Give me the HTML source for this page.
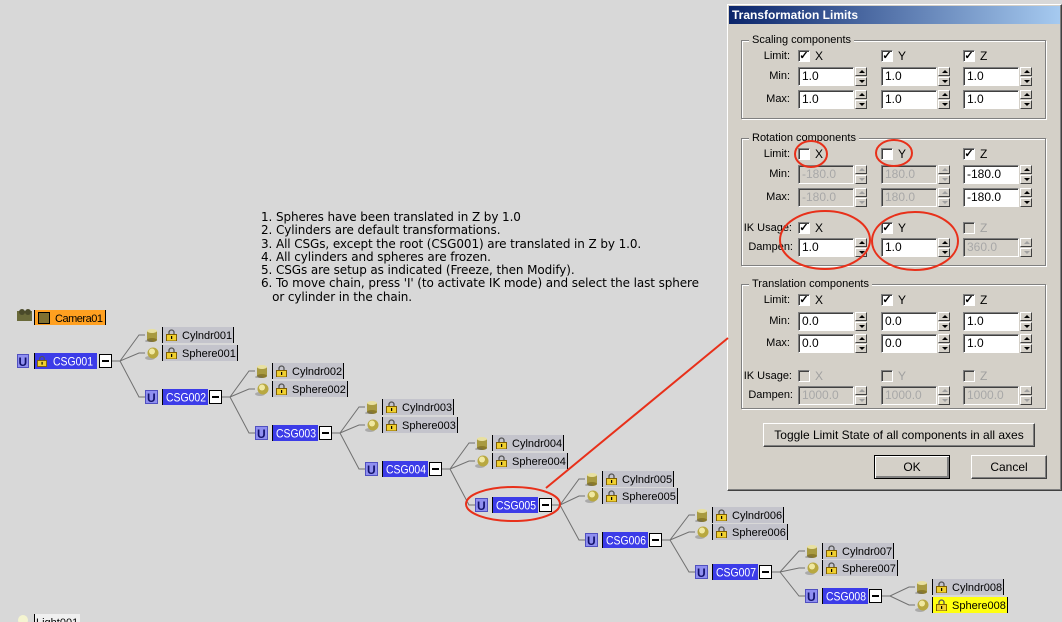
<!DOCTYPE html>
<html><head><meta charset="utf-8">
<style>
*{margin:0;padding:0;box-sizing:border-box}
body{width:1062px;height:622px;background:#d8d8d8;position:relative;overflow:hidden;font-family:"Liberation Sans",sans-serif}
#notes{position:absolute;left:261px;top:211px;font:12px/13.3px "DejaVu Sans",sans-serif;color:#000;white-space:pre;letter-spacing:-0.1px}
#dlg{position:absolute;left:727px;top:4px;width:335px;height:487px;background:#d4d0c8;border:1px solid;border-color:#fff #404040 #404040 #fff;box-shadow:inset -1px -1px #808080}
#title{position:absolute;left:729px;top:6px;width:331px;height:18px;background:linear-gradient(90deg,#0a246a,#a6caf0);color:#fff;font:bold 12px/18px "Liberation Sans",sans-serif;padding-left:3px}
.g{position:absolute;left:741px;width:305px;border:1px solid #808080;box-shadow:1px 1px #fff,inset 1px 1px #fff}
.gt{position:absolute;background:#d4d0c8;font-size:11px;padding:0 3px;color:#000;line-height:12px}
.l{position:absolute;width:90px;text-align:right;font-size:11px;line-height:13px}
.f{position:absolute;height:19px;width:56px;background:#fff;border:1px solid;border-color:#808080 #fff #fff #808080;box-shadow:inset 1px 1px #404040;font-size:12px;line-height:17px;padding-left:3px}
.f.d{background:#d4d0c8;color:#a8a8a8}
.s{position:absolute;width:12px;height:19px}
.s i{display:block;width:12px;height:9px;margin-bottom:1px;background:#d4d0c8;border:1px solid;border-color:#fff #404040 #404040 #fff;position:relative}
.s i:before{content:"";position:absolute;left:3px;top:2px;border:3px solid transparent;border-top:0;border-bottom:3px solid #000}
.s i+i:before{border-bottom:0;border-top:3px solid #000;top:2px}
.s.d i:before{border-bottom-color:#a0a0a0}
.s.d i+i:before{border-top-color:#a0a0a0}
.c{position:absolute;width:12px;height:12px;background:#fff;border:1px solid;border-color:#808080 #fff #fff #808080;box-shadow:inset 1px 1px #404040;font-size:11px;line-height:10px;text-align:center;font-weight:bold}
.c.d{background:#d4d0c8}
.cl{position:absolute;font-size:12px;line-height:13px}
.cl.d{color:#a0a0a0}
.b{position:absolute;background:#d4d0c8;border:1px solid;border-color:#fff #404040 #404040 #fff;box-shadow:inset -1px -1px #808080;font-size:12px;text-align:center}
svg{position:absolute;left:0;top:0}
</style></head><body>

<svg width="1062" height="622" viewBox="0 0 1062 622" font-family="Liberation Sans, sans-serif" font-size="11">
<defs>
<symbol id="cyl" viewBox="0 0 14 14"><rect x="2" y="3" width="10" height="9" fill="#a89a40"/><ellipse cx="7" cy="12" rx="5" ry="2" fill="#8a7a2a"/><ellipse cx="7" cy="3" rx="5" ry="2" fill="#e8e0a0"/><ellipse cx="4" cy="13" rx="4" ry="1.5" fill="#666" opacity=".4"/></symbol>
<symbol id="sph" viewBox="0 0 14 14"><ellipse cx="5" cy="12" rx="5" ry="2" fill="#666" opacity=".4"/><circle cx="8" cy="7" r="5.5" fill="#b8a840"/><circle cx="7" cy="5.5" r="3" fill="#f0e8a0"/></symbol>
<symbol id="lk" viewBox="0 0 11 12"><path d="M3 6V3.5a2.5 2.5 0 0 1 5 0V6" fill="none" stroke="#555" stroke-width="1.3"/><rect x="0.5" y="5.5" width="10" height="6.5" fill="#f0d030" stroke="#806000"/><rect x="5" y="7" width="1.2" height="3" fill="#000"/></symbol>
</defs>

<!-- camera -->
<rect x="17" y="311" width="15" height="10" fill="#6a6a3a"/><circle cx="22" cy="312" r="3" fill="#4a4a2a"/><circle cx="28" cy="312" r="3" fill="#4a4a2a"/>
<rect x="35" y="310" width="71" height="15" fill="#ffa020"/><line x1="34.5" y1="310" x2="34.5" y2="325" stroke="#000"/><line x1="105.5" y1="310" x2="105.5" y2="325" stroke="#000"/>
<rect x="38.5" y="312.5" width="11" height="11" fill="#807030" stroke="#000"/>
<text x="55" y="322" textLength="48">Camera01</text>

<!-- CSG001 -->
<rect x="17.5" y="354.5" width="11" height="13" fill="#8f8ff0" stroke="#5050c0"/><text x="18.5" y="366" font-weight="bold" font-size="12" fill="#10106a">U</text>
<rect x="35" y="353" width="62" height="16" fill="#3c3ce8"/><line x1="34.5" y1="353" x2="34.5" y2="369" stroke="#000"/>
<use href="#lk" x="37" y="355" width="10" height="12"/>
<text x="53" y="365.5" fill="#fff" font-size="12" textLength="40" lengthAdjust="spacingAndGlyphs">CSG001</text>
<rect x="99.5" y="354.5" width="12" height="13" fill="#fff" stroke="#000"/><line x1="102" y1="361" x2="109" y2="361" stroke="#000" stroke-width="2"/>

<g fill="none" stroke="#707070" stroke-width="1">
<path d="M112,361H120L139,335H145M120,361L139,353H145M120,361L139,397H145"/>
<path d="M222,397H230L249,371H255M230,397L249,389H255M230,397L249,433H255"/>
<path d="M332,433H340L359,407H365M340,433L359,425H365M340,433L359,469H365"/>
<path d="M442,469H450L469,443H475M450,469L469,461H475M450,469L469,505H475"/>
<path d="M552,505H560L579,479H585M560,505L579,496H585M560,505L579,540H585"/>
<path d="M662,540H670L689,515H695M670,540L689,532H695M670,540L689,572H695"/>
<path d="M772,572H780L799,551H805M780,572L799,568H805M780,572L799,596H805"/>
<path d="M882,596H890L909,587H915M890,596L909,605H915"/>
</g>

<g>
<use href="#cyl" x="145" y="328" width="14" height="14"/><rect x="162" y="327" width="71" height="16" fill="#c4c4cc"/><line x1="162.5" y1="327" x2="162.5" y2="343" stroke="#000"/><line x1="233.5" y1="327" x2="233.5" y2="343" stroke="#000"/><use href="#lk" x="166" y="329" width="11" height="12"/><text x="182" y="339">Cylndr001</text>
<use href="#sph" x="145" y="346" width="14" height="14"/><rect x="162" y="345" width="76" height="16" fill="#c4c4cc"/><line x1="162.5" y1="345" x2="162.5" y2="361" stroke="#000"/><line x1="237.5" y1="345" x2="237.5" y2="361" stroke="#000"/><use href="#lk" x="166" y="347" width="11" height="12"/><text x="182" y="357">Sphere001</text>
</g>
<g transform="translate(110,36)">
<use href="#cyl" x="145" y="328" width="14" height="14"/><rect x="162" y="327" width="71" height="16" fill="#c4c4cc"/><line x1="162.5" y1="327" x2="162.5" y2="343" stroke="#000"/><line x1="233.5" y1="327" x2="233.5" y2="343" stroke="#000"/><use href="#lk" x="166" y="329" width="11" height="12"/><text x="182" y="339">Cylndr002</text>
<use href="#sph" x="145" y="346" width="14" height="14"/><rect x="162" y="345" width="76" height="16" fill="#c4c4cc"/><line x1="162.5" y1="345" x2="162.5" y2="361" stroke="#000"/><line x1="237.5" y1="345" x2="237.5" y2="361" stroke="#000"/><use href="#lk" x="166" y="347" width="11" height="12"/><text x="182" y="357">Sphere002</text>
</g>
<g transform="translate(220,72)">
<use href="#cyl" x="145" y="328" width="14" height="14"/><rect x="162" y="327" width="71" height="16" fill="#c4c4cc"/><line x1="162.5" y1="327" x2="162.5" y2="343" stroke="#000"/><line x1="233.5" y1="327" x2="233.5" y2="343" stroke="#000"/><use href="#lk" x="166" y="329" width="11" height="12"/><text x="182" y="339">Cylndr003</text>
<use href="#sph" x="145" y="346" width="14" height="14"/><rect x="162" y="345" width="76" height="16" fill="#c4c4cc"/><line x1="162.5" y1="345" x2="162.5" y2="361" stroke="#000"/><line x1="237.5" y1="345" x2="237.5" y2="361" stroke="#000"/><use href="#lk" x="166" y="347" width="11" height="12"/><text x="182" y="357">Sphere003</text>
</g>
<g transform="translate(330,108)">
<use href="#cyl" x="145" y="328" width="14" height="14"/><rect x="162" y="327" width="71" height="16" fill="#c4c4cc"/><line x1="162.5" y1="327" x2="162.5" y2="343" stroke="#000"/><line x1="233.5" y1="327" x2="233.5" y2="343" stroke="#000"/><use href="#lk" x="166" y="329" width="11" height="12"/><text x="182" y="339">Cylndr004</text>
<use href="#sph" x="145" y="346" width="14" height="14"/><rect x="162" y="345" width="76" height="16" fill="#c4c4cc"/><line x1="162.5" y1="345" x2="162.5" y2="361" stroke="#000"/><line x1="237.5" y1="345" x2="237.5" y2="361" stroke="#000"/><use href="#lk" x="166" y="347" width="11" height="12"/><text x="182" y="357">Sphere004</text>
</g>
<g transform="translate(440,144)">
<use href="#cyl" x="145" y="328" width="14" height="14"/><rect x="162" y="327" width="71" height="16" fill="#c4c4cc"/><line x1="162.5" y1="327" x2="162.5" y2="343" stroke="#000"/><line x1="233.5" y1="327" x2="233.5" y2="343" stroke="#000"/><use href="#lk" x="166" y="329" width="11" height="12"/><text x="182" y="339">Cylndr005</text>
</g>
<g transform="translate(440,143)">
<use href="#sph" x="145" y="346" width="14" height="14"/><rect x="162" y="345" width="76" height="16" fill="#c4c4cc"/><line x1="162.5" y1="345" x2="162.5" y2="361" stroke="#000"/><line x1="237.5" y1="345" x2="237.5" y2="361" stroke="#000"/><use href="#lk" x="166" y="347" width="11" height="12"/><text x="182" y="357">Sphere005</text>
</g>
<g transform="translate(550,180)">
<use href="#cyl" x="145" y="328" width="14" height="14"/><rect x="162" y="327" width="71" height="16" fill="#c4c4cc"/><line x1="162.5" y1="327" x2="162.5" y2="343" stroke="#000"/><line x1="233.5" y1="327" x2="233.5" y2="343" stroke="#000"/><use href="#lk" x="166" y="329" width="11" height="12"/><text x="182" y="339">Cylndr006</text>
</g>
<g transform="translate(550,179)">
<use href="#sph" x="145" y="346" width="14" height="14"/><rect x="162" y="345" width="76" height="16" fill="#c4c4cc"/><line x1="162.5" y1="345" x2="162.5" y2="361" stroke="#000"/><line x1="237.5" y1="345" x2="237.5" y2="361" stroke="#000"/><use href="#lk" x="166" y="347" width="11" height="12"/><text x="182" y="357">Sphere006</text>
</g>
<g transform="translate(660,216)">
<use href="#cyl" x="145" y="328" width="14" height="14"/><rect x="162" y="327" width="71" height="16" fill="#c4c4cc"/><line x1="162.5" y1="327" x2="162.5" y2="343" stroke="#000"/><line x1="233.5" y1="327" x2="233.5" y2="343" stroke="#000"/><use href="#lk" x="166" y="329" width="11" height="12"/><text x="182" y="339">Cylndr007</text>
</g>
<g transform="translate(660,215)">
<use href="#sph" x="145" y="346" width="14" height="14"/><rect x="162" y="345" width="76" height="16" fill="#c4c4cc"/><line x1="162.5" y1="345" x2="162.5" y2="361" stroke="#000"/><line x1="237.5" y1="345" x2="237.5" y2="361" stroke="#000"/><use href="#lk" x="166" y="347" width="11" height="12"/><text x="182" y="357">Sphere007</text>
</g>
<g transform="translate(770,252)">
<use href="#cyl" x="145" y="328" width="14" height="14"/><rect x="162" y="327" width="71" height="16" fill="#c4c4cc"/><line x1="162.5" y1="327" x2="162.5" y2="343" stroke="#000"/><line x1="233.5" y1="327" x2="233.5" y2="343" stroke="#000"/><use href="#lk" x="166" y="329" width="11" height="12"/><text x="182" y="339">Cylndr008</text>
<use href="#sph" x="145" y="346" width="14" height="14"/><rect x="162" y="345" width="76" height="16" fill="#ffff10"/><line x1="162.5" y1="345" x2="162.5" y2="361" stroke="#000"/><line x1="237.5" y1="345" x2="237.5" y2="361" stroke="#000"/><use href="#lk" x="166" y="347" width="11" height="12"/><text x="182" y="357">Sphere008</text>
</g>

<g transform="translate(0,397)">
<rect x="145.5" y="-6.5" width="12" height="13" fill="#8f8ff0" stroke="#5050c0"/><text x="147" y="5" font-weight="bold" font-size="12" fill="#10106a">U</text>
<rect x="162" y="-8" width="46" height="16" fill="#3c3ce8"/><line x1="162.5" y1="-8" x2="162.5" y2="8" stroke="#000"/>
<text x="166" y="4.5" fill="#fff" font-size="12" textLength="40" lengthAdjust="spacingAndGlyphs">CSG002</text>
<rect x="209.5" y="-6.5" width="12" height="13" fill="#fff" stroke="#000"/><line x1="212" y1="0" x2="219" y2="0" stroke="#000" stroke-width="2"/>
</g>
<g transform="translate(110,433)">
<rect x="145.5" y="-6.5" width="12" height="13" fill="#8f8ff0" stroke="#5050c0"/><text x="147" y="5" font-weight="bold" font-size="12" fill="#10106a">U</text>
<rect x="162" y="-8" width="46" height="16" fill="#3c3ce8"/><line x1="162.5" y1="-8" x2="162.5" y2="8" stroke="#000"/>
<text x="166" y="4.5" fill="#fff" font-size="12" textLength="40" lengthAdjust="spacingAndGlyphs">CSG003</text>
<rect x="209.5" y="-6.5" width="12" height="13" fill="#fff" stroke="#000"/><line x1="212" y1="0" x2="219" y2="0" stroke="#000" stroke-width="2"/>
</g>
<g transform="translate(220,469)">
<rect x="145.5" y="-6.5" width="12" height="13" fill="#8f8ff0" stroke="#5050c0"/><text x="147" y="5" font-weight="bold" font-size="12" fill="#10106a">U</text>
<rect x="162" y="-8" width="46" height="16" fill="#3c3ce8"/><line x1="162.5" y1="-8" x2="162.5" y2="8" stroke="#000"/>
<text x="166" y="4.5" fill="#fff" font-size="12" textLength="40" lengthAdjust="spacingAndGlyphs">CSG004</text>
<rect x="209.5" y="-6.5" width="12" height="13" fill="#fff" stroke="#000"/><line x1="212" y1="0" x2="219" y2="0" stroke="#000" stroke-width="2"/>
</g>
<g transform="translate(330,505)">
<rect x="145.5" y="-6.5" width="12" height="13" fill="#8f8ff0" stroke="#5050c0"/><text x="147" y="5" font-weight="bold" font-size="12" fill="#10106a">U</text>
<rect x="162" y="-8" width="46" height="16" fill="#3c3ce8"/><line x1="162.5" y1="-8" x2="162.5" y2="8" stroke="#000"/>
<text x="166" y="4.5" fill="#fff" font-size="12" textLength="40" lengthAdjust="spacingAndGlyphs">CSG005</text>
<rect x="209.5" y="-6.5" width="12" height="13" fill="#fff" stroke="#000"/><line x1="212" y1="0" x2="219" y2="0" stroke="#000" stroke-width="2"/>
</g>
<g transform="translate(440,540)">
<rect x="145.5" y="-6.5" width="12" height="13" fill="#8f8ff0" stroke="#5050c0"/><text x="147" y="5" font-weight="bold" font-size="12" fill="#10106a">U</text>
<rect x="162" y="-8" width="46" height="16" fill="#3c3ce8"/><line x1="162.5" y1="-8" x2="162.5" y2="8" stroke="#000"/>
<text x="166" y="4.5" fill="#fff" font-size="12" textLength="40" lengthAdjust="spacingAndGlyphs">CSG006</text>
<rect x="209.5" y="-6.5" width="12" height="13" fill="#fff" stroke="#000"/><line x1="212" y1="0" x2="219" y2="0" stroke="#000" stroke-width="2"/>
</g>
<g transform="translate(550,572)">
<rect x="145.5" y="-6.5" width="12" height="13" fill="#8f8ff0" stroke="#5050c0"/><text x="147" y="5" font-weight="bold" font-size="12" fill="#10106a">U</text>
<rect x="162" y="-8" width="46" height="16" fill="#3c3ce8"/><line x1="162.5" y1="-8" x2="162.5" y2="8" stroke="#000"/>
<text x="166" y="4.5" fill="#fff" font-size="12" textLength="40" lengthAdjust="spacingAndGlyphs">CSG007</text>
<rect x="209.5" y="-6.5" width="12" height="13" fill="#fff" stroke="#000"/><line x1="212" y1="0" x2="219" y2="0" stroke="#000" stroke-width="2"/>
</g>
<g transform="translate(660,596)">
<rect x="145.5" y="-6.5" width="12" height="13" fill="#8f8ff0" stroke="#5050c0"/><text x="147" y="5" font-weight="bold" font-size="12" fill="#10106a">U</text>
<rect x="162" y="-8" width="46" height="16" fill="#3c3ce8"/><line x1="162.5" y1="-8" x2="162.5" y2="8" stroke="#000"/>
<text x="166" y="4.5" fill="#fff" font-size="12" textLength="40" lengthAdjust="spacingAndGlyphs">CSG008</text>
<rect x="209.5" y="-6.5" width="12" height="13" fill="#fff" stroke="#000"/><line x1="212" y1="0" x2="219" y2="0" stroke="#000" stroke-width="2"/>
</g>

<circle cx="23" cy="620" r="5" fill="#f4f4d0"/>
<rect x="34" y="614" width="46" height="10" fill="#f0f0f0"/><line x1="34.5" y1="614" x2="34.5" y2="622" stroke="#000"/>
<text x="36" y="626">Light001</text>
</svg>

<div id="notes">1. Spheres have been translated in Z by 1.0
2. Cylinders are default transformations.
3. All CSGs, except the root (CSG001) are translated in Z by 1.0.
4. All cylinders and spheres are frozen.
5. CSGs are setup as indicated (Freeze, then Modify).
6. To move chain, press 'I' (to activate IK mode) and select the last sphere
   or cylinder in the chain.</div>

<div id="dlg"></div>
<div id="title">Transformation Limits</div>

<div class="g" style="top:40px;height:79px"></div><div class="gt" style="left:749px;top:34px">Scaling components</div>
<div class="g" style="top:138px;height:128px"></div><div class="gt" style="left:749px;top:132px">Rotation components</div>
<div class="g" style="top:284px;height:125px"></div><div class="gt" style="left:749px;top:278px">Translation components</div>

<div class="l" style="left:700px;top:50px">Limit:</div>
<div class="c" style="left:798px;top:50px">✓</div><div class="cl" style="left:815px;top:50px">X</div>
<div class="c" style="left:881px;top:50px">✓</div><div class="cl" style="left:898px;top:50px">Y</div>
<div class="c" style="left:963px;top:50px">✓</div><div class="cl" style="left:980px;top:50px">Z</div>
<div class="l" style="left:700px;top:70px">Min:</div>
<div class="f" style="left:798px;top:67px">1.0</div><div class="s" style="left:855px;top:67px"><i></i><i></i></div>
<div class="f" style="left:881px;top:67px">1.0</div><div class="s" style="left:938px;top:67px"><i></i><i></i></div>
<div class="f" style="left:963px;top:67px">1.0</div><div class="s" style="left:1020px;top:67px"><i></i><i></i></div>
<div class="l" style="left:700px;top:93px">Max:</div>
<div class="f" style="left:798px;top:90px">1.0</div><div class="s" style="left:855px;top:90px"><i></i><i></i></div>
<div class="f" style="left:881px;top:90px">1.0</div><div class="s" style="left:938px;top:90px"><i></i><i></i></div>
<div class="f" style="left:963px;top:90px">1.0</div><div class="s" style="left:1020px;top:90px"><i></i><i></i></div>

<div class="l" style="left:700px;top:148px">Limit:</div>
<div class="c" style="left:798px;top:148px"></div><div class="cl" style="left:815px;top:148px">X</div>
<div class="c" style="left:881px;top:148px"></div><div class="cl" style="left:898px;top:148px">Y</div>
<div class="c" style="left:963px;top:148px">✓</div><div class="cl" style="left:980px;top:148px">Z</div>
<div class="l" style="left:700px;top:168px">Min:</div>
<div class="f d" style="left:798px;top:165px">-180.0</div><div class="s d" style="left:855px;top:165px"><i></i><i></i></div>
<div class="f d" style="left:881px;top:165px">180.0</div><div class="s d" style="left:938px;top:165px"><i></i><i></i></div>
<div class="f" style="left:963px;top:165px">-180.0</div><div class="s" style="left:1020px;top:165px"><i></i><i></i></div>
<div class="l" style="left:700px;top:191px">Max:</div>
<div class="f d" style="left:798px;top:188px">-180.0</div><div class="s d" style="left:855px;top:188px"><i></i><i></i></div>
<div class="f d" style="left:881px;top:188px">180.0</div><div class="s d" style="left:938px;top:188px"><i></i><i></i></div>
<div class="f" style="left:963px;top:188px">-180.0</div><div class="s" style="left:1020px;top:188px"><i></i><i></i></div>
<div class="l" style="left:702px;top:222px">IK Usage:</div>
<div class="c" style="left:798px;top:222px">✓</div><div class="cl" style="left:815px;top:222px">X</div>
<div class="c" style="left:881px;top:222px">✓</div><div class="cl" style="left:898px;top:222px">Y</div>
<div class="c d" style="left:963px;top:222px"></div><div class="cl d" style="left:980px;top:222px">Z</div>
<div class="l" style="left:703px;top:241px">Dampen:</div>
<div class="f" style="left:798px;top:238px">1.0</div><div class="s" style="left:855px;top:238px"><i></i><i></i></div>
<div class="f" style="left:881px;top:238px">1.0</div><div class="s" style="left:938px;top:238px"><i></i><i></i></div>
<div class="f d" style="left:963px;top:238px">360.0</div><div class="s d" style="left:1020px;top:238px"><i></i><i></i></div>

<div class="l" style="left:700px;top:294px">Limit:</div>
<div class="c" style="left:798px;top:294px">✓</div><div class="cl" style="left:815px;top:294px">X</div>
<div class="c" style="left:881px;top:294px">✓</div><div class="cl" style="left:898px;top:294px">Y</div>
<div class="c" style="left:963px;top:294px">✓</div><div class="cl" style="left:980px;top:294px">Z</div>
<div class="l" style="left:700px;top:315px">Min:</div>
<div class="f" style="left:798px;top:312px">0.0</div><div class="s" style="left:855px;top:312px"><i></i><i></i></div>
<div class="f" style="left:881px;top:312px">0.0</div><div class="s" style="left:938px;top:312px"><i></i><i></i></div>
<div class="f" style="left:963px;top:312px">1.0</div><div class="s" style="left:1020px;top:312px"><i></i><i></i></div>
<div class="l" style="left:700px;top:337px">Max:</div>
<div class="f" style="left:798px;top:334px">0.0</div><div class="s" style="left:855px;top:334px"><i></i><i></i></div>
<div class="f" style="left:881px;top:334px">0.0</div><div class="s" style="left:938px;top:334px"><i></i><i></i></div>
<div class="f" style="left:963px;top:334px">1.0</div><div class="s" style="left:1020px;top:334px"><i></i><i></i></div>
<div class="l" style="left:702px;top:370px">IK Usage:</div>
<div class="c d" style="left:798px;top:370px"></div><div class="cl d" style="left:815px;top:370px">X</div>
<div class="c d" style="left:881px;top:370px"></div><div class="cl d" style="left:898px;top:370px">Y</div>
<div class="c d" style="left:963px;top:370px"></div><div class="cl d" style="left:980px;top:370px">Z</div>
<div class="l" style="left:703px;top:389px">Dampen:</div>
<div class="f d" style="left:798px;top:386px">1000.0</div><div class="s d" style="left:855px;top:386px"><i></i><i></i></div>
<div class="f d" style="left:881px;top:386px">1000.0</div><div class="s d" style="left:938px;top:386px"><i></i><i></i></div>
<div class="f d" style="left:963px;top:386px">1000.0</div><div class="s d" style="left:1020px;top:386px"><i></i><i></i></div>

<div class="b" style="left:763px;top:423px;width:272px;height:24px;line-height:22px">Toggle Limit State of all components in all axes</div>
<div class="b" style="left:874px;top:455px;width:76px;height:24px;line-height:22px;border-color:#000;box-shadow:inset 1px 1px #fff,inset -2px -2px #808080">OK</div>
<div class="b" style="left:971px;top:455px;width:76px;height:24px;line-height:22px">Cancel</div>

<svg width="1062" height="622" viewBox="0 0 1062 622" style="pointer-events:none">
<g fill="none" stroke="#e8301a" stroke-width="2">
<line x1="546" y1="488" x2="728" y2="338"/>
<ellipse cx="513" cy="504" rx="47" ry="17"/>
<ellipse cx="811" cy="154" rx="16" ry="13"/>
<ellipse cx="894" cy="153" rx="18" ry="13"/>
<ellipse cx="825" cy="240" rx="45" ry="29"/>
<ellipse cx="915" cy="241" rx="43" ry="29"/>
</g>
</svg>
</body></html>
